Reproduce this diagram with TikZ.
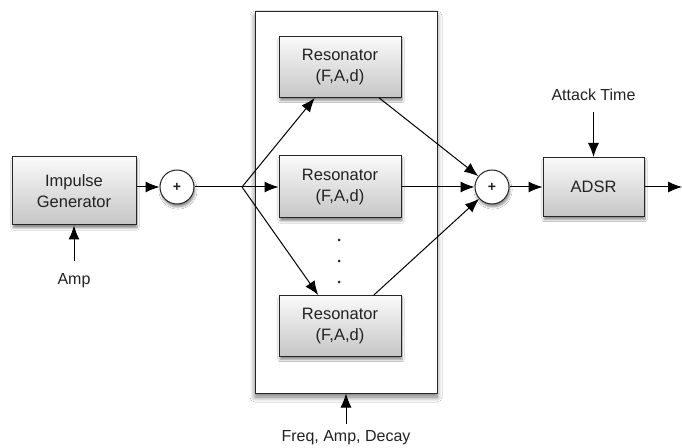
\documentclass[tikz,border=0pt]{standalone}
\usepackage{fontspec}
\setmainfont{Liberation Sans}
\usetikzlibrary{arrows.meta,shadows.blur}
\definecolor{txt}{HTML}{222222}
\begin{document}
\begin{tikzpicture}[x=1pt,y=1pt,
  shd/.style={blur shadow={shadow xshift=1pt, shadow yshift=-3pt, shadow blur steps=6, shadow opacity=45}},
  box/.style={draw=black!85, line width=1pt, top color=gray!4, bottom color=gray!45,
    text=txt, align=center, font=\fontsize{16.5}{21.5}\selectfont, inner sep=0pt, shd},
  sum/.style={circle, draw=black!85, line width=1pt, fill=white, minimum size=34pt,
    inner sep=0pt, font=\fontsize{14}{14}\selectfont\bfseries, text=txt, shd},
  frame/.style={draw=black!85, line width=1pt, fill=white, inner sep=0pt,
    blur shadow={shadow xshift=0pt, shadow yshift=-4pt, shadow blur steps=8, shadow opacity=55, shadow blur radius=5pt}},
  lab/.style={text=txt, font=\fontsize{16}{19}\selectfont, inner sep=0pt},
  dotn/.style={circle, fill=txt, minimum size=3pt, inner sep=0pt},
  arr/.style={-{Latex[length=14pt,width=11pt]}, line width=1pt},
  ln/.style={line width=1pt}]
\fill[white] (0,0) rectangle (682,447);
\useasboundingbox (0,0) rectangle (682,447);

\node[frame, minimum width=182pt, minimum height=381pt] (c) at (346,244.5) {};

\node[box, minimum width=124pt, minimum height=68pt] (ig) at (74,256) {Impulse\\Generator};
\node[sum] (a1) at (177,260) {+};
\coordinate (fan) at (242,260);

\node[box, minimum width=122pt, minimum height=61pt] (r1) at (340,380) {Resonator\\(F,A,d)};
\node[box, minimum width=122pt, minimum height=62pt] (r2) at (340,260) {Resonator\\(F,A,d)};
\node[box, minimum width=122pt, minimum height=61pt] (r3) at (340,121) {Resonator\\(F,A,d)};

\node[dotn] (d1) at (339,207) {};
\node[dotn] (d2) at (339,186) {};
\node[dotn] (d3) at (339,165) {};

\node[sum] (a2) at (492,260) {+};
\node[box, minimum width=101pt, minimum height=59pt] (adsr) at (593.5,260) {ADSR};
\coordinate (out) at (682,260);

\node[lab] (amp) at (74,166) {Amp};
\node[lab] (att) at (593.5,352) {Attack Time};
\node[lab] (fad) at (346,9) {Freq, Amp, Decay};

\draw[arr] (ig.east |- a1) -- (a1);
\draw[ln] (a1) -- (fan);
\draw[arr] (fan) -- (r1);
\draw[arr] (fan) -- (r2);
\draw[arr] (fan) -- (r3);
\draw[arr] (r1) -- (a2);
\draw[arr] (r2) -- (a2);
\draw[arr] (r3) -- (a2);
\draw[arr] (a2) -- (adsr);
\draw[arr] (adsr) -- (out);
\draw[arr, shorten <=13pt] (amp) -- (ig);
\draw[arr, shorten <=11pt] (att) -- (adsr);
\draw[arr, shorten <=7pt] (fad) -- (c);
\end{tikzpicture}
\end{document}
